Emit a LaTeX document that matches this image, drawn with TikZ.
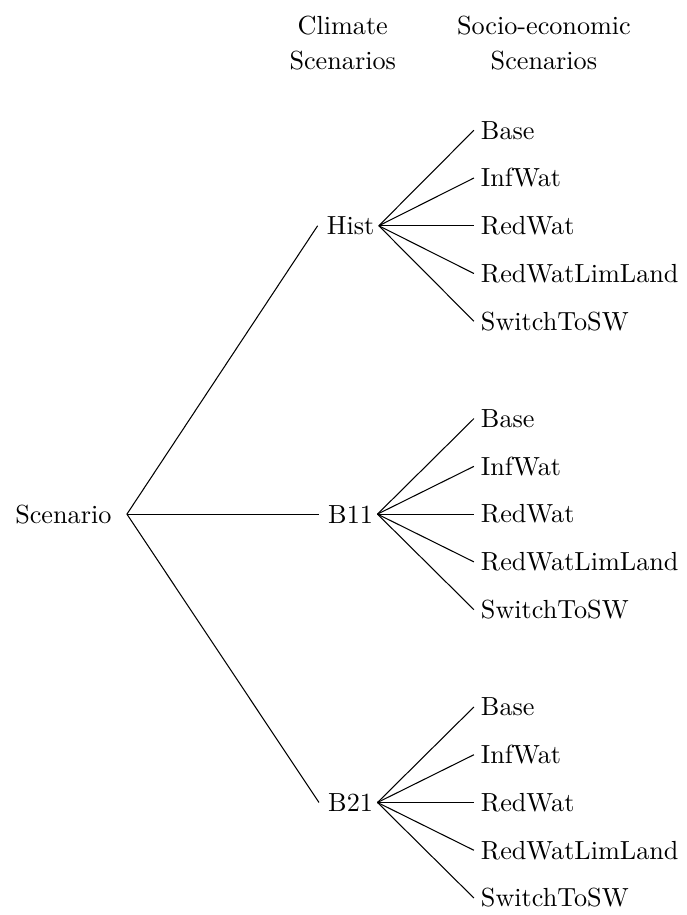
\documentclass[tikz,border=0pt]{standalone}
\usepackage{tikz}
\usetikzlibrary{positioning}

\begin{document}
\begin{tikzpicture}[
    lvl/.style={inner sep=3.33pt},
    leaf/.style={anchor=west, inner sep=2.5pt},
    head/.style={align=center},
    br/.style={thin}
]
\useasboundingbox (0,0) rectangle (9.21,-12.28);
% column headers
\node[head] (hclim) at (4.60,-0.58) {Climate\\[1.4pt]Scenarios};
\node[head] (hsoc) at (7.30,-0.58) {Socio-economic\\[1.4pt]Scenarios};
% root and climate scenarios
\node[lvl] (root) at (0.85,-6.90) {Scenario};
\node[lvl] (hist) at (4.705,-3.03) {Hist};
\node[lvl] (b11) at (4.705,-6.90) {B11};
\node[lvl] (b21) at (4.705,-10.77) {B21};
\coordinate (rootout) at ([xshift=2.4pt]root.east);
\coordinate (histout) at ([xshift=-1.8pt]hist.east);
\coordinate (b11out) at ([xshift=-1.8pt]b11.east);
\coordinate (b21out) at ([xshift=-1.8pt]b21.east);
\draw[br] (rootout) -- (hist.west);
\draw[br] (rootout) -- (b11.west);
\draw[br] (rootout) -- (b21.west);
% socio-economic scenarios under Hist
\node[leaf] (h1) at (6.36,-1.748) {Base};
\node[leaf] (h2) at (6.36,-2.389) {InfWat};
\node[leaf] (h3) at (6.36,-3.03) {RedWat};
\node[leaf] (h4) at (6.36,-3.671) {RedWatLimLand};
\node[leaf] (h5) at (6.36,-4.312) {SwitchToSW};
\draw[br] (histout) -- (h1.west);
\draw[br] (histout) -- (h2.west);
\draw[br] (histout) -- (h3.west);
\draw[br] (histout) -- (h4.west);
\draw[br] (histout) -- (h5.west);
% socio-economic scenarios under B11
\node[leaf] (m1) at (6.36,-5.618) {Base};
\node[leaf] (m2) at (6.36,-6.259) {InfWat};
\node[leaf] (m3) at (6.36,-6.90) {RedWat};
\node[leaf] (m4) at (6.36,-7.541) {RedWatLimLand};
\node[leaf] (m5) at (6.36,-8.182) {SwitchToSW};
\draw[br] (b11out) -- (m1.west);
\draw[br] (b11out) -- (m2.west);
\draw[br] (b11out) -- (m3.west);
\draw[br] (b11out) -- (m4.west);
\draw[br] (b11out) -- (m5.west);
% socio-economic scenarios under B21
\node[leaf] (l1) at (6.36,-9.488) {Base};
\node[leaf] (l2) at (6.36,-10.129) {InfWat};
\node[leaf] (l3) at (6.36,-10.77) {RedWat};
\node[leaf] (l4) at (6.36,-11.411) {RedWatLimLand};
\node[leaf] (l5) at (6.36,-12.052) {SwitchToSW};
\draw[br] (b21out) -- (l1.west);
\draw[br] (b21out) -- (l2.west);
\draw[br] (b21out) -- (l3.west);
\draw[br] (b21out) -- (l4.west);
\draw[br] (b21out) -- (l5.west);
\end{tikzpicture}
\end{document}
